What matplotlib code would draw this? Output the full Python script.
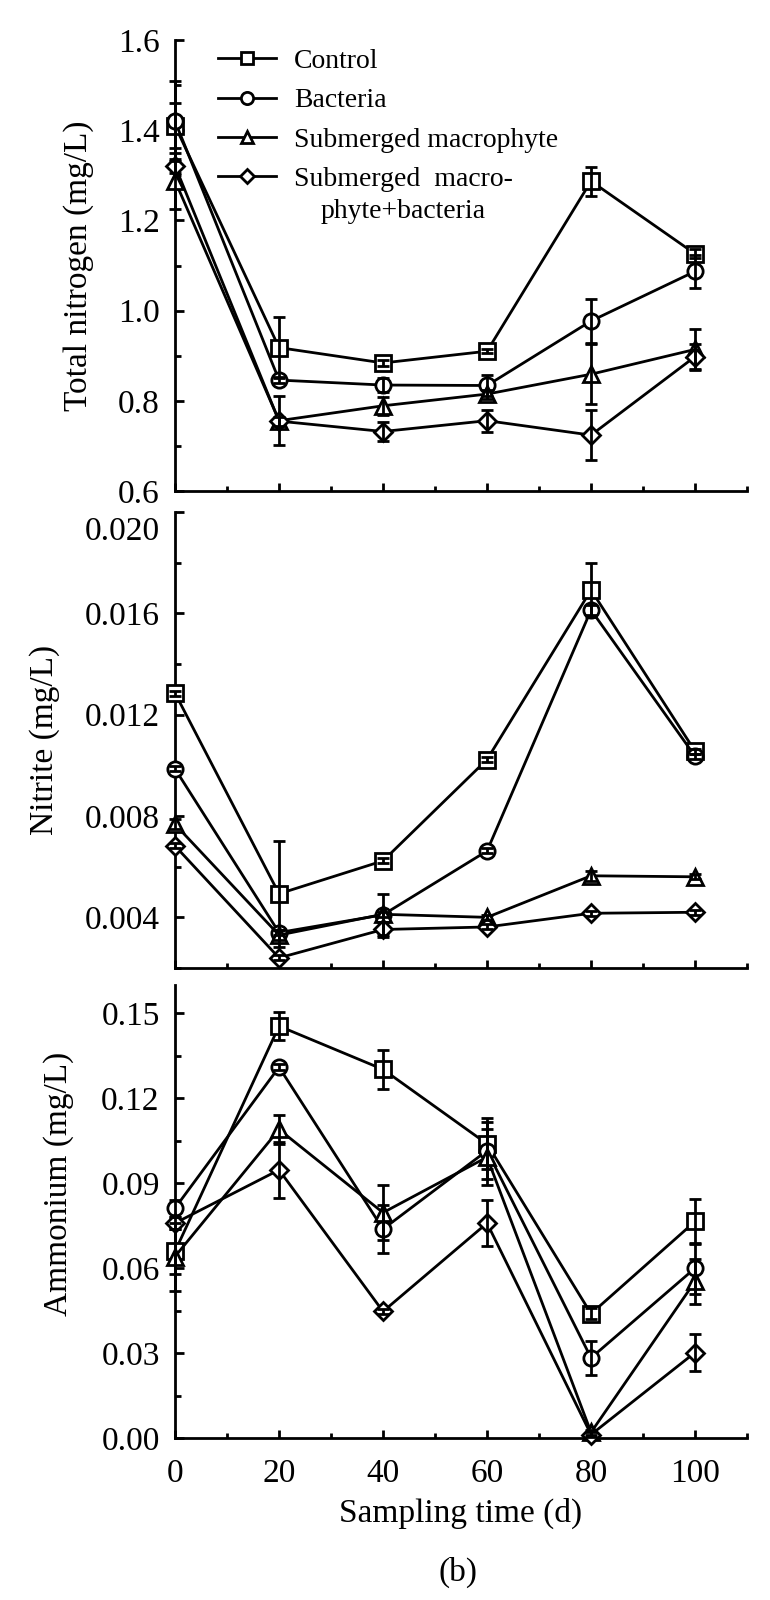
import matplotlib
matplotlib.use("Agg")
import matplotlib.pyplot as plt
from matplotlib.ticker import MultipleLocator, FormatStrFormatter
from matplotlib.transforms import IdentityTransform, ScaledTranslation

# ---------------- data ----------------
days = [0, 20, 40, 60, 80, 100]
series_names = ["Control", "Bacteria", "Submerged macrophyte", "Submerged  macro-"]
legend_continuation = "phyte+bacteria"
markers = ["s", "o", "^", "D"]

tn_control = [1.410, 0.918, 0.884, 0.910, 1.287, 1.126]
tn_bacteria = [1.420, 0.846, 0.835, 0.834, 0.977, 1.087]
tn_macrophyte = [1.288, 0.756, 0.789, 0.815, 0.859, 0.914]
tn_combined = [1.321, 0.755, 0.732, 0.756, 0.724, 0.898]
tn_control_err = [0.050, 0.068, 0.006, 0.005, 0.032, 0.010]
tn_bacteria_err = [0.088, 0.006, 0.016, 0.024, 0.048, 0.036]
tn_macrophyte_err = [0.062, 0.054, 0.020, 0.010, 0.066, 0.046]
tn_combined_err = [0.015, 0.010, 0.022, 0.024, 0.055, 0.028]

no2_control = [0.01285, 0.00493, 0.00623, 0.01023, 0.01692, 0.01056]
no2_bacteria = [0.00986, 0.00340, 0.00410, 0.00662, 0.01613, 0.01036]
no2_macrophyte = [0.00767, 0.00330, 0.00412, 0.00400, 0.00564, 0.00560]
no2_combined = [0.00682, 0.00240, 0.00352, 0.00362, 0.00416, 0.00420]
no2_control_err = [0.0001, 0.0021, 0.0001, 0.0001, 0.00105, 0.0001]
no2_bacteria_err = [0.0001, 0.0001, 0.0001, 0.0001, 0.0002, 0.0001]
no2_macrophyte_err = [0.0002, 0.0002, 0.0008, 0.0001, 0.0002, 0.0001]
no2_combined_err = [0.0001, 0.0001, 0.0003, 0.0001, 0.0001, 0.0001]

nh4_control = [0.0659, 0.1455, 0.1302, 0.1039, 0.0439, 0.0765]
nh4_bacteria = [0.0812, 0.1310, 0.0738, 0.1015, 0.0283, 0.0600]
nh4_macrophyte = [0.0641, 0.1090, 0.0796, 0.0992, 0.0020, 0.0553]
nh4_combined = [0.0759, 0.0947, 0.0447, 0.0759, 0.0012, 0.0302]
nh4_control_err = [0.008, 0.005, 0.007, 0.009, 0.002, 0.008]
nh4_bacteria_err = [0.003, 0.001, 0.0085, 0.010, 0.006, 0.009]
nh4_macrophyte_err = [0.012, 0.005, 0.0096, 0.010, 0.001, 0.008]
nh4_combined_err = [0.002, 0.010, 0.001, 0.008, 0.001, 0.0067]

y_labels = ["Total nitrogen (mg/L)", "Nitrite (mg/L)", "Ammonium (mg/L)"]
x_label = "Sampling time (d)"
panel_tag = "(b)"

# ---------------- style ----------------
plt.rcParams["font.family"] = ["Liberation Serif", "DejaVu Serif"]
FS = 24
FS_LEG = 20
LW = 2.0

fig = plt.figure(figsize=(7.7, 16), dpi=100)
L, W = 0.2273, 0.7429
ax_top = fig.add_axes([L, 0.6931, W, 0.2819])
ax_mid = fig.add_axes([L, 0.3950, W, 0.2850])
ax_bot = fig.add_axes([L, 0.10125, W, 0.2831])

panels = [
    (ax_top, [tn_control, tn_bacteria, tn_macrophyte, tn_combined],
     [tn_control_err, tn_bacteria_err, tn_macrophyte_err, tn_combined_err],
     (0.6, 1.6), 0.2, 0.1, "%.1f", -0.142),
    (ax_mid, [no2_control, no2_bacteria, no2_macrophyte, no2_combined],
     [no2_control_err, no2_bacteria_err, no2_macrophyte_err, no2_combined_err],
     (0.002, 0.020), 0.004, 0.002, "%.3f", -0.201),
    (ax_bot, [nh4_control, nh4_bacteria, nh4_macrophyte, nh4_combined],
     [nh4_control_err, nh4_bacteria_err, nh4_macrophyte_err, nh4_combined_err],
     (0.0, 0.16), 0.03, 0.015, "%.2f", -0.176),
]

for i, (ax, vals, errs, ylim, major, minor, fmt, lab_x) in enumerate(panels):
    for k, (v, e, m) in enumerate(zip(vals, errs, markers)):
        ms = 9.5 if m == "D" else 11
        ax.errorbar(days, v, yerr=e, fmt="none", ecolor="black",
                    elinewidth=LW, capsize=4.5, capthick=LW, zorder=4 + k * 0.01,
                    clip_on=False)
        ax.plot(days, v, marker=m, color="black", lw=LW, ms=ms, mew=LW,
                mfc="white", mec="black", zorder=3 + k * 0.01, clip_on=False,
                label=series_names[k])
    ax.set_xlim(0, 110)
    ax.set_ylim(*ylim)
    ax.xaxis.set_major_locator(MultipleLocator(20))
    ax.xaxis.set_minor_locator(MultipleLocator(10))
    ax.yaxis.set_major_locator(MultipleLocator(major))
    ax.yaxis.set_minor_locator(MultipleLocator(minor))
    ax.yaxis.set_major_formatter(FormatStrFormatter(fmt))
    for s in ["top", "right"]:
        ax.spines[s].set_visible(False)
    for s in ["left", "bottom"]:
        ax.spines[s].set_linewidth(2.0)
    ax.tick_params(axis="y", which="major", direction="in", length=6.5, width=2,
                   labelsize=FS, pad=11)
    ax.tick_params(axis="y", which="minor", direction="in", length=4.5, width=2)
    ax.tick_params(axis="x", which="major", direction="in", length=5.5, width=2,
                   labelsize=FS, pad=15)
    ax.tick_params(axis="x", which="minor", direction="in", length=3.5, width=2)
    ax.set_ylabel(y_labels[i], fontsize=FS)
    ax.yaxis.set_label_coords(lab_x, 0.5 if i < 2 else 0.56)
    if i < 2:
        ax.tick_params(axis="x", labelbottom=False)

ax_bot.set_xlabel(x_label, fontsize=FS, labelpad=6)

leg = ax_top.legend(loc="upper left", bbox_to_anchor=(0.075, 0.981),
                    borderaxespad=0, borderpad=0, frameon=False, fontsize=FS_LEG,
                    handlelength=2.1, handletextpad=0.65, labelspacing=0.5,
                    markerscale=0.8)

fig.text(0.595, 0.0175, panel_tag, ha="center", va="center", fontsize=FS)

fig.canvas.draw()
# the reference nudges the top nitrite label down, clear of the "0.6" above it
for t in ax_mid.yaxis.get_major_ticks():
    if abs(t.get_loc() - 0.020) < 1e-9:
        t.label1.set_transform(t.label1.get_transform() +
                               ScaledTranslation(0, -0.16, fig.dpi_scale_trans))

renderer = fig.canvas.get_renderer()
bb = leg.get_texts()[3].get_window_extent(renderer)
fig.text(bb.x0 + 26, bb.y0 - 32, legend_continuation, fontsize=FS_LEG,
         ha="left", va="bottom", transform=IdentityTransform())

fig.savefig("out.png", dpi=100)
